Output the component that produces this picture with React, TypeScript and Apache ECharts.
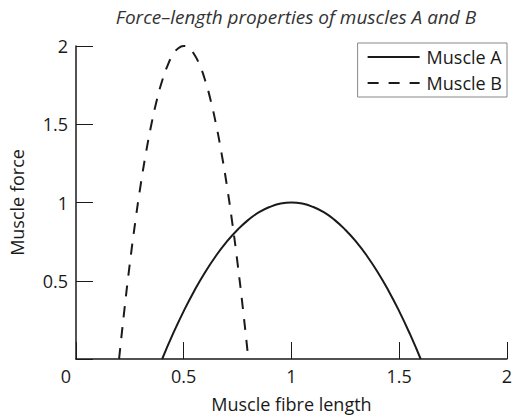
import React, { useEffect, useRef } from "react";
import * as echarts from "echarts";

const titleText = "Force–length properties of muscles A and B";
const xName = "Muscle fibre length";
const yName = "Muscle force";
const seriesNames = ["Muscle A", "Muscle B"];
const xTicks = [0, 0.5, 1, 1.5, 2];
const yTicks = [0, 0.5, 1, 1.5, 2];

const muscleAX = [0.4, 0.45, 0.5, 0.55, 0.6, 0.65, 0.7, 0.75, 0.8, 0.85, 0.9, 0.95, 1.0, 1.05, 1.1, 1.15, 1.2, 1.25, 1.3, 1.35, 1.4, 1.45, 1.5, 1.55, 1.6];
const muscleAY = [0, 0.16, 0.306, 0.438, 0.556, 0.66, 0.75, 0.826, 0.889, 0.938, 0.972, 0.993, 1.0, 0.993, 0.972, 0.938, 0.889, 0.826, 0.75, 0.66, 0.556, 0.438, 0.306, 0.16, 0];

const muscleBX = [0.2, 0.225, 0.25, 0.275, 0.3, 0.325, 0.35, 0.375, 0.4, 0.425, 0.45, 0.475, 0.5, 0.525, 0.55, 0.575, 0.6, 0.625, 0.65, 0.675, 0.7, 0.725, 0.75, 0.775, 0.8];
const muscleBY = [0, 0.319, 0.611, 0.875, 1.111, 1.319, 1.5, 1.653, 1.778, 1.875, 1.944, 1.986, 2.0, 1.986, 1.944, 1.875, 1.778, 1.653, 1.5, 1.319, 1.111, 0.875, 0.611, 0.319, 0];

const FONT = "'Open Sans', 'Noto Sans', sans-serif";
const INK = "#1a1a1a";

export default function App() {
  const ref = useRef<HTMLDivElement>(null);
  useEffect(() => {
    if (!ref.current) return;
    const chart = echarts.init(ref.current, undefined, { renderer: "svg" });
    const pairs = (xs: number[], ys: number[]) => xs.map((x, i) => [x, ys[i]]);
    chart.setOption({
      animation: false,
      backgroundColor: "#ffffff",
      title: {
        text: titleText,
        left: 291,
        textAlign: "center",
        top: 2,
        textStyle: { fontFamily: FONT, fontStyle: "italic", fontWeight: "normal", fontSize: 19, color: "#333" },
      },
      legend: {
        orient: "vertical",
        right: 8,
        top: 43,
        itemWidth: 52,
        itemHeight: 12,
        itemGap: 8,
        padding: [5, 5, 5, 9],
        borderColor: "#888",
        borderWidth: 1,
        data: seriesNames,
        itemStyle: { opacity: 0 },
        textStyle: { fontFamily: FONT, fontSize: 18, color: INK, padding: [0, 0, 0, 2] },
      },
      grid: { left: 70, right: 2, top: 46, bottom: 58, containLabel: false },
      xAxis: {
        type: "value",
        min: xTicks[0],
        max: xTicks[xTicks.length - 1],
        interval: 0.5,
        name: xName,
        nameLocation: "middle",
        nameGap: 36,
        nameTextStyle: { fontFamily: FONT, fontSize: 18, color: INK },
        axisLine: { show: true, lineStyle: { color: INK, width: 1.5 } },
        axisTick: { show: true, inside: true, length: 17, lineStyle: { color: INK, width: 1 } },
        splitLine: { show: false },
        axisLabel: {
          margin: 8,
          fontFamily: FONT,
          fontSize: 18,
          color: INK,
          formatter: (v: number) => (v === 0 ? "{z|0}" : String(v)),
          rich: { z: { padding: [0, 20, 0, 0], fontFamily: FONT, fontSize: 18, color: INK } },
        },
      },
      yAxis: {
        type: "value",
        min: yTicks[0],
        max: yTicks[yTicks.length - 1],
        interval: 0.5,
        name: yName,
        nameLocation: "middle",
        nameGap: 50,
        nameTextStyle: { fontFamily: FONT, fontSize: 18, color: INK },
        axisLine: { show: true, lineStyle: { color: INK, width: 1.5 } },
        axisTick: { show: true, inside: true, length: 17, lineStyle: { color: INK, width: 1 } },
        splitLine: { show: false },
        axisLabel: {
          margin: 8,
          fontFamily: FONT,
          fontSize: 18,
          color: INK,
          formatter: (v: number) => (v === 0 ? "" : String(v)),
        },
      },
      series: [
        {
          name: seriesNames[0],
          type: "line",
          data: pairs(muscleAX, muscleAY),
          smooth: true,
          symbol: "none",
          lineStyle: { color: INK, width: 2, type: "solid" },
          itemStyle: { color: INK },
        },
        {
          name: seriesNames[1],
          type: "line",
          data: pairs(muscleBX, muscleBY),
          smooth: true,
          symbol: "none",
          lineStyle: { color: INK, width: 2, type: [11, 10] },
          itemStyle: { color: INK },
        },
      ],
    });
    return () => chart.dispose();
  }, []);
  return <div ref={ref} style={{ width: 515, height: 418, position: "absolute", left: 0, top: 0 }} />;
}
